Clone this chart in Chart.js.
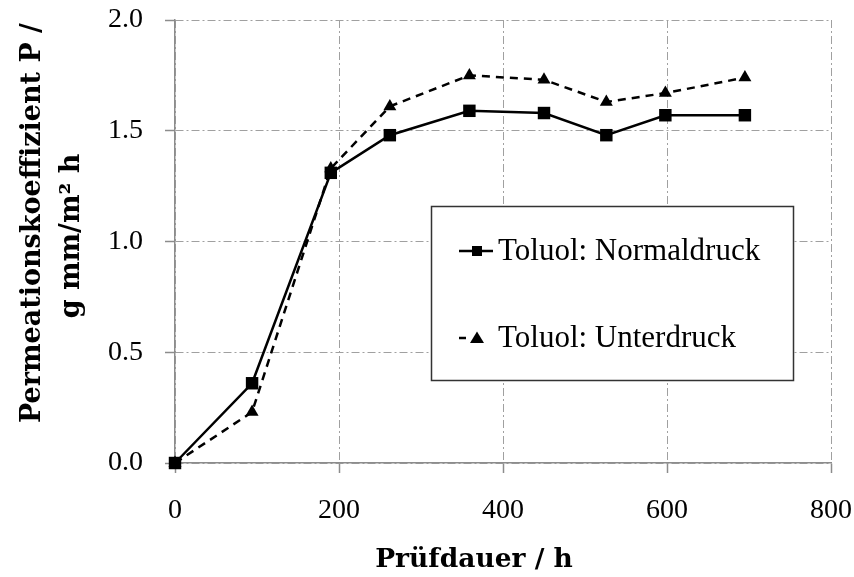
<!DOCTYPE html>
<html>
<head>
<meta charset="utf-8">
<title>Permeationskoeffizient Toluol</title>
<script src="https://cdn.jsdelivr.net/npm/chart.js@4.4.0/dist/chart.umd.min.js"></script>
<style>
  html, body { margin: 0; padding: 0; background: #fff; }
  #wrap { width: 854px; height: 577px; position: relative; }
</style>
</head>
<body>
<div id="wrap"><canvas id="chart"></canvas></div>
<script>
// values
var pruefdauer = [0, 94, 190, 262, 359, 450, 526, 598, 695];
var normaldruck = [0, 0.36, 1.31, 1.48, 1.59, 1.58, 1.48, 1.57, 1.57];
var unterdruck = [0, 0.23, 1.33, 1.61, 1.75, 1.73, 1.63, 1.67, 1.74];
var xTicks = [0, 200, 400, 600, 800];
var yTicks = [0, 0.5, 1.0, 1.5, 2.0];
var seriesLabels = ['Toluol: Normaldruck', 'Toluol: Unterdruck'];
var xTitle = 'Prüfdauer / h';
var yTitle = ['Permeationskoeffizient P /', 'g mm/m² h'];

Chart.defaults.font.family = '"Liberation Serif", serif';
Chart.defaults.color = '#000';

function toPoints(ys) {
  return ys.map(function (y, i) { return { x: pruefdauer[i], y: y }; });
}

// axis titles + boxed legend, drawn on top
var extraText = {
  id: 'extraText',
  afterDraw: function (chart) {
    var ctx = chart.ctx;
    var ds = chart.data.datasets;
    ctx.save();
    ctx.fillStyle = '#000';

    // x title
    ctx.font = 'bold 26.5px "DejaVu Serif"';
    ctx.textAlign = 'center';
    ctx.textBaseline = 'alphabetic';
    ctx.fillText(xTitle, 474, 567);

    // y title, two lines rotated
    ctx.font = 'bold 27px "DejaVu Serif"';
    ctx.save();
    ctx.translate(40, 223);
    ctx.rotate(-Math.PI / 2);
    ctx.fillText(yTitle[0], 0, 0);
    ctx.restore();
    ctx.save();
    ctx.translate(79, 236);
    ctx.rotate(-Math.PI / 2);
    ctx.fillText(yTitle[1], 0, 0);
    ctx.restore();

    // legend box
    ctx.fillStyle = '#fff';
    ctx.fillRect(431, 206, 363, 175);
    ctx.strokeStyle = '#333';
    ctx.lineWidth = 1.5;
    ctx.strokeRect(431.5, 206.5, 362, 174);

    var rows = [251, 338];
    ctx.font = '31px "Liberation Serif"';
    ctx.textAlign = 'left';
    for (var i = 0; i < ds.length; i++) {
      var y = rows[i];
      ctx.strokeStyle = '#000';
      ctx.lineWidth = 2.5;
      ctx.setLineDash([]);
      ctx.beginPath();
      ctx.moveTo(459, y);
      ctx.lineTo(ds[i].borderDash ? 466 : 493, y);
      ctx.stroke();
      ctx.fillStyle = '#000';
      ctx.beginPath();
      if (ds[i].pointStyle === 'rect') {
        ctx.rect(472, y - 5, 10, 10);
      } else {
        ctx.moveTo(477, y - 6.5);
        ctx.lineTo(484, y + 5);
        ctx.lineTo(470, y + 5);
        ctx.closePath();
      }
      ctx.fill();
      ctx.fillText(ds[i].label, 498, y + 9);
    }
    ctx.restore();
  }
};

var gridLook = {
  color: '#a0a0a0',
  lineWidth: 1,
  drawTicks: true,
  tickLength: 10,
  tickColor: '#8c8c8c',
  tickWidth: 1.5,
  tickBorderDash: []
};
var borderLook = { display: true, color: '#8c8c8c', width: 1.5, dash: [8, 3, 2, 3] };

new Chart(document.getElementById('chart'), {
  type: 'line',
  data: {
    datasets: [{
      label: seriesLabels[0],
      data: toPoints(normaldruck),
      borderColor: '#000',
      backgroundColor: '#000',
      borderWidth: 2.5,
      pointStyle: 'rect',
      pointRadius: 8.8,
      pointBorderWidth: 0,
      clip: false,
      tension: 0
    }, {
      label: seriesLabels[1],
      data: toPoints(unterdruck),
      borderColor: '#000',
      backgroundColor: '#000',
      borderWidth: 2.5,
      borderDash: [8, 6],
      pointStyle: 'triangle',
      pointRadius: 7.5,
      pointBorderWidth: 0,
      clip: false,
      tension: 0
    }]
  },
  options: {
    responsive: true,
    maintainAspectRatio: false,
    animation: false,
    layout: { padding: { left: 0, top: 20, right: 23, bottom: 0 } },
    plugins: { legend: { display: false }, tooltip: { enabled: false } },
    scales: {
      x: {
        type: 'linear',
        min: 0,
        max: 800,
        afterBuildTicks: function (s) { s.ticks = xTicks.map(function (v) { return { value: v }; }); },
        afterFit: function (s) { s.height = 114; s.paddingLeft = 0; s.paddingRight = 0; },
        ticks: { font: { size: 28 }, padding: 21, maxRotation: 0 },
        grid: gridLook,
        border: borderLook
      },
      y: {
        min: 0,
        max: 2,
        afterBuildTicks: function (s) { s.ticks = yTicks.map(function (v) { return { value: v }; }); },
        afterFit: function (s) { s.width = 175; s.paddingTop = 0; s.paddingBottom = 0; },
        ticks: {
          font: { size: 28 },
          padding: 22,
          callback: function (v) { return Number(v).toFixed(1); }
        },
        grid: gridLook,
        border: borderLook
      }
    }
  },
  plugins: [extraText]
});
</script>
</body>
</html>
